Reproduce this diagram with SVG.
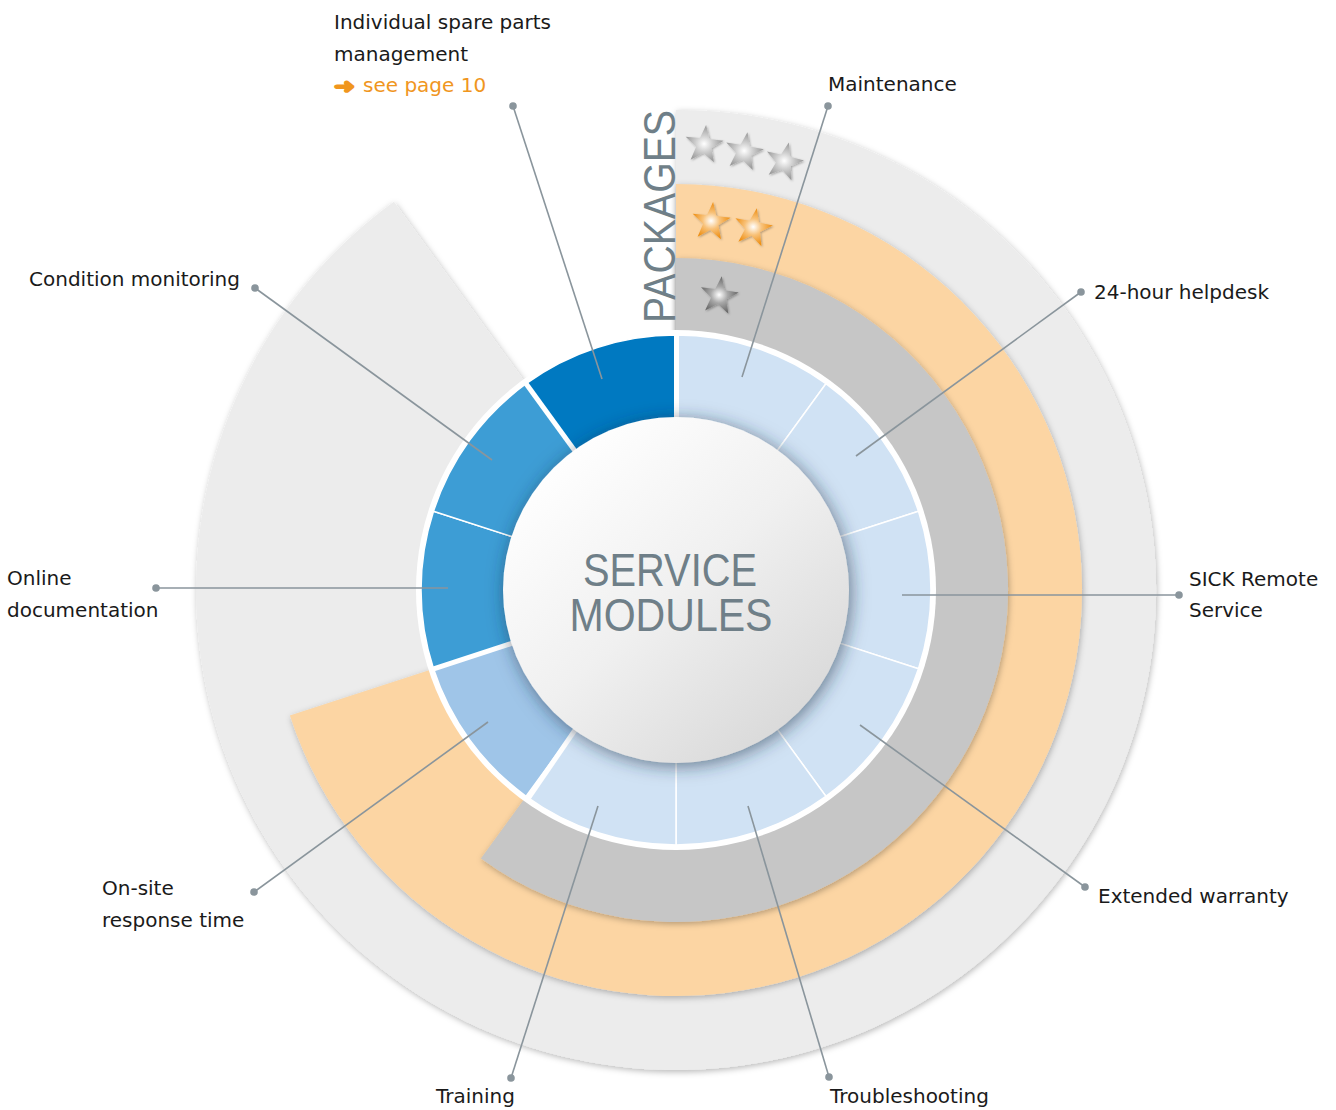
<svg xmlns="http://www.w3.org/2000/svg" xmlns:xlink="http://www.w3.org/1999/xlink" width="1336" height="1110" viewBox="0 0 1336 1110">
<defs>
<style>
.lbl{font-family:"DejaVu Sans","Liberation Sans",sans-serif;font-size:20px;fill:#1a1a1a}
.link{font-family:"DejaVu Sans","Liberation Sans",sans-serif;font-size:20px;fill:#f0961e}
.big{font-family:"Liberation Sans",Arial,sans-serif;fill:#6f7f88}
.lead{stroke:#8a959c;stroke-width:1.6;fill:none}
.dot{fill:#8a959c}
.seg{stroke:#ffffff;stroke-width:1.5}
.sep{stroke:#ffffff;stroke-width:5}
.lb{fill:#d0e2f4}
</style>
<filter id="wsh" x="-10%" y="-10%" width="120%" height="120%">
<feDropShadow dx="1" dy="2" stdDeviation="3" flood-color="#000" flood-opacity="0.28"/>
</filter>
<filter id="csh" x="-20%" y="-20%" width="140%" height="140%">
<feDropShadow dx="2" dy="3" stdDeviation="9" flood-color="#1e3048" flood-opacity="0.6"/>
</filter>
<filter id="ssh" x="-30%" y="-30%" width="160%" height="160%">
<feDropShadow dx="1" dy="1" stdDeviation="1.2" flood-color="#000" flood-opacity="0.3"/>
</filter>
<linearGradient id="cg" x1="0.15" y1="0.1" x2="0.85" y2="0.9">
<stop offset="0" stop-color="#ffffff"/>
<stop offset="0.5" stop-color="#f0f0f0"/>
<stop offset="1" stop-color="#d9d9d9"/>
</linearGradient>
<radialGradient id="sgS" cx="0.5" cy="0.52" r="0.5">
<stop offset="0" stop-color="#ffffff"/>
<stop offset="0.45" stop-color="#cfcfcf"/>
<stop offset="1" stop-color="#9a9a9a"/>
</radialGradient>
<radialGradient id="sgO" cx="0.5" cy="0.52" r="0.5">
<stop offset="0" stop-color="#ffffff"/>
<stop offset="0.45" stop-color="#f8c27a"/>
<stop offset="1" stop-color="#ee8f14"/>
</radialGradient>
<radialGradient id="sgD" cx="0.5" cy="0.52" r="0.5">
<stop offset="0" stop-color="#ffffff"/>
<stop offset="0.45" stop-color="#a8a8a8"/>
<stop offset="1" stop-color="#6a6a6a"/>
</radialGradient>
<path id="star" d="M0,-20 L4.70,-6.47 L19.02,-6.18 L7.61,2.47 L11.76,16.18 L0,8 L-11.76,16.18 L-7.61,2.47 L-19.02,-6.18 L-4.70,-6.47 Z"/>
</defs>
<rect width="1336" height="1110" fill="#ffffff"/>

<g id="packages">
<path id="pkg3" d="M676,590 L676,110 A480,480 0 1 1 393.9,201.7 Z" fill="#ececec" filter="url(#wsh)"/>
<path id="pkg2" d="M676,590 L676,184 A406,406 0 1 1 289.9,715.5 Z" fill="#fcd5a3" filter="url(#wsh)"/>
<path id="pkg1" d="M676,590 L676,258 A332,332 0 1 1 480.9,858.6 Z" fill="#c6c6c6" filter="url(#wsh)"/>
<text class="big" transform="translate(675,323) rotate(-90)" font-size="45" textLength="213" lengthAdjust="spacingAndGlyphs">PACKAGES</text>
<g id="stars" filter="url(#ssh)">
<use xlink:href="#star" href="#star" fill="url(#sgS)" transform="translate(704,145) rotate(6)"/>
<use xlink:href="#star" href="#star" fill="url(#sgS)" transform="translate(744,152) rotate(10)"/>
<use xlink:href="#star" href="#star" fill="url(#sgS)" transform="translate(784,162) rotate(14)"/>
<use xlink:href="#star" href="#star" fill="url(#sgO)" transform="translate(711,222) rotate(6)"/>
<use xlink:href="#star" href="#star" fill="url(#sgO)" transform="translate(753,228) rotate(11)"/>
<use xlink:href="#star" href="#star" fill="url(#sgD)" transform="translate(719,296) rotate(8)"/>
</g>
</g>

<g id="modules">
<circle cx="676" cy="590" r="260" fill="#ffffff"/>
<g id="seg-maintenance"><path class="seg lb" d="M676,335 A255,255 0 0 1 825.9,383.7 L764.2,468.6 A150,150 0 0 0 676,440 Z"/></g>
<g id="seg-helpdesk"><path class="seg lb" d="M825.9,383.7 A255,255 0 0 1 918.5,511.2 L818.7,543.6 A150,150 0 0 0 764.2,468.6 Z"/></g>
<g id="seg-remote"><path class="seg lb" d="M918.5,511.2 A255,255 0 0 1 918.5,668.8 L818.7,636.4 A150,150 0 0 0 818.7,543.6 Z"/></g>
<g id="seg-warranty"><path class="seg lb" d="M918.5,668.8 A255,255 0 0 1 825.9,796.3 L764.2,711.4 A150,150 0 0 0 818.7,636.4 Z"/></g>
<g id="seg-troubleshooting"><path class="seg lb" d="M825.9,796.3 A255,255 0 0 1 676,845 L676,740 A150,150 0 0 0 764.2,711.4 Z"/></g>
<g id="seg-training"><path class="seg lb" d="M676,845 A255,255 0 0 1 526.1,796.3 L587.8,711.4 A150,150 0 0 0 676,740 Z"/></g>
<g id="seg-onsite"><path class="seg" fill="#9fc5e8" d="M526.1,796.3 A255,255 0 0 1 433.5,668.8 L533.3,636.4 A150,150 0 0 0 587.8,711.4 Z"/></g>
<g id="seg-online"><path class="seg" fill="#3d9dd5" d="M433.5,668.8 A255,255 0 0 1 433.5,511.2 L533.3,543.6 A150,150 0 0 0 533.3,636.4 Z"/></g>
<g id="seg-condition"><path class="seg" fill="#3d9dd5" d="M433.5,511.2 A255,255 0 0 1 526.1,383.7 L587.8,468.6 A150,150 0 0 0 533.3,543.6 Z"/></g>
<g id="seg-spare"><path class="seg" fill="#0079c1" d="M526.1,383.7 A255,255 0 0 1 676,335 L676,440 A150,150 0 0 0 587.8,468.6 Z"/></g>
<line class="sep" x1="676.5" y1="332" x2="676.5" y2="440"/>
<line class="sep" x1="527.9" y1="798.8" x2="587.8" y2="711.4"/>
<line class="sep" x1="430.6" y1="669.8" x2="533.3" y2="636.4"/>
<line class="sep" x1="524.3" y1="381.2" x2="587.8" y2="468.6"/>
</g>

<g id="center">
<circle cx="676" cy="590" r="173" fill="url(#cg)" filter="url(#csh)"/>
<text class="big" font-size="46" text-anchor="middle"><tspan x="670" y="586" textLength="174" lengthAdjust="spacingAndGlyphs">SERVICE</tspan><tspan x="671" y="631" textLength="203" lengthAdjust="spacingAndGlyphs">MODULES</tspan></text>
</g>

<g id="connectors">
<line class="lead" x1="513" y1="106" x2="602" y2="379"/>
<line class="lead" x1="828" y1="106" x2="742" y2="377"/>
<line class="lead" x1="1081" y1="292" x2="856" y2="456"/>
<line class="lead" x1="1179" y1="595" x2="902" y2="595"/>
<line class="lead" x1="1085" y1="887" x2="860" y2="725"/>
<line class="lead" x1="829" y1="1077" x2="748" y2="806"/>
<line class="lead" x1="511" y1="1078" x2="598" y2="806"/>
<line class="lead" x1="254" y1="892" x2="488" y2="722"/>
<line class="lead" x1="156" y1="588" x2="448" y2="588"/>
<line class="lead" x1="255" y1="288" x2="492" y2="460"/>
<circle class="dot" cx="513" cy="106" r="3.8"/>
<circle class="dot" cx="828" cy="106" r="3.8"/>
<circle class="dot" cx="1081" cy="292" r="3.8"/>
<circle class="dot" cx="1179" cy="595" r="3.8"/>
<circle class="dot" cx="1085" cy="887" r="3.8"/>
<circle class="dot" cx="829" cy="1077" r="3.8"/>
<circle class="dot" cx="511" cy="1078" r="3.8"/>
<circle class="dot" cx="254" cy="892" r="3.8"/>
<circle class="dot" cx="156" cy="588" r="3.8"/>
<circle class="dot" cx="255" cy="288" r="3.8"/>
</g>

<g id="labels">
<g id="lbl-spare">
<text class="lbl" x="334" y="29">Individual spare parts</text>
<text class="lbl" x="334" y="61">management</text>
<text class="link" x="334" y="93" font-size="28" stroke="#f0961e" stroke-width="2" stroke-linejoin="round" textLength="21" lengthAdjust="spacingAndGlyphs">➜</text>
<text class="link" x="363" y="92">see page 10</text>
</g>
<g id="lbl-maintenance"><text class="lbl" x="828" y="91">Maintenance</text></g>
<g id="lbl-helpdesk"><text class="lbl" x="1094" y="299">24-hour helpdesk</text></g>
<g id="lbl-remote">
<text class="lbl" x="1189" y="586">SICK Remote</text>
<text class="lbl" x="1189" y="617">Service</text>
</g>
<g id="lbl-warranty"><text class="lbl" x="1098" y="903">Extended warranty</text></g>
<g id="lbl-troubleshooting"><text class="lbl" x="830" y="1103">Troubleshooting</text></g>
<g id="lbl-training"><text class="lbl" x="436" y="1103">Training</text></g>
<g id="lbl-onsite">
<text class="lbl" x="102" y="895">On-site</text>
<text class="lbl" x="102" y="927">response time</text>
</g>
<g id="lbl-online">
<text class="lbl" x="7" y="585">Online</text>
<text class="lbl" x="7" y="617">documentation</text>
</g>
<g id="lbl-condition"><text class="lbl" x="29" y="286">Condition monitoring</text></g>
</g>
</svg>
